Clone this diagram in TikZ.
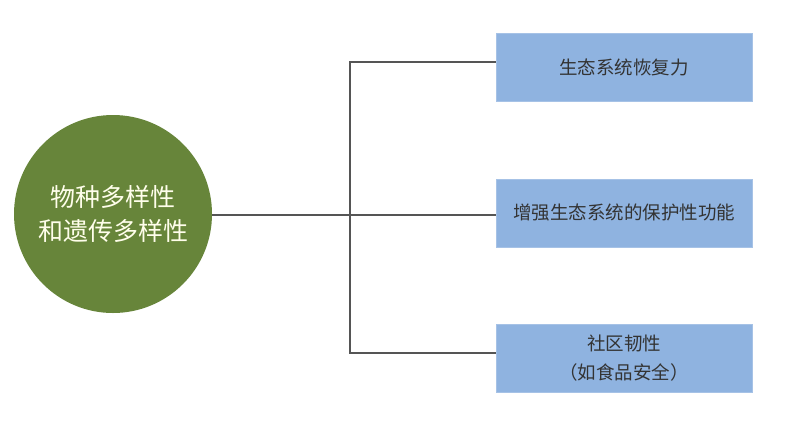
\documentclass[tikz,border=0pt]{standalone}
\usepackage{fontspec}
\newfontfamily\cjk{Noto Sans CJK SC}
\usetikzlibrary{positioning}
\definecolor{leafgreen}{HTML}{67853A}
\definecolor{boxblue}{HTML}{8FB3E0}
\definecolor{boxedge}{HTML}{A6C2E6}
\definecolor{linegray}{HTML}{555555}
\tikzset{
  topic/.style={circle,fill=leafgreen,minimum size=198pt,inner sep=0pt,text=white!92!yellow,
    font=\cjk\fontsize{25}{34}\selectfont,align=center},
  effect/.style={rectangle,fill=boxblue,draw=boxedge,line width=0.8pt,minimum width=256pt,minimum height=68pt,
    inner sep=0pt,text=black!80,font=\cjk\fontsize{18.5}{29}\selectfont,align=center},
  branch/.style={draw=linegray,line width=1.5pt}
}
\begin{document}
\begin{tikzpicture}[x=1pt,y=-1pt]
	\useasboundingbox (0,0) rectangle (800,426);
	\node[topic] (c) at (113,214) {物种多样性\\和遗传多样性};
	\foreach \n/\y/\t in {b1/67/生态系统恢复力,b2/213/增强生态系统的保护性功能,b3/358/{社区韧性\\（如食品安全）}}
		\node[effect] (\n) at (624,\y) {\t};
	\coordinate (j) at (350,215);
	\draw[branch] (c.east |- j) -- (j -| b2.west);
	\draw[branch] (b1.west |- 0,62) -| (j) |- (b3.west |- 0,353);
\end{tikzpicture}
\end{document}
